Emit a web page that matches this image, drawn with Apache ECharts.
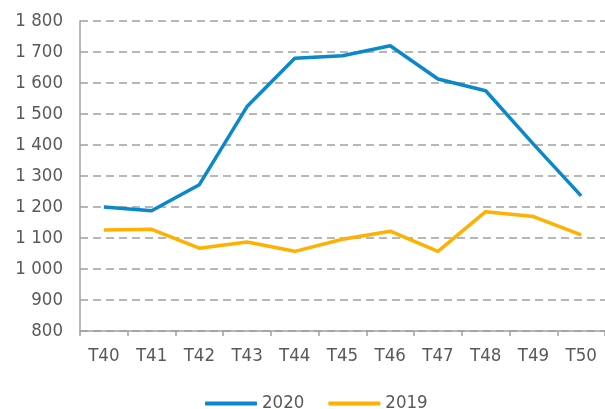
<!DOCTYPE html>
<html>
<head>
<meta charset="utf-8">
<script src="https://cdn.jsdelivr.net/npm/echarts@6/dist/echarts.min.js"></script>
<style>
  html, body { margin: 0; padding: 0; background: #fff; }
  #chart { width: 605px; height: 409px; }
</style>
</head>
<body>
<div id="chart"></div>
<script>
// weeks and values
const weeks = ['T40', 'T41', 'T42', 'T43', 'T44', 'T45', 'T46', 'T47', 'T48', 'T49', 'T50'];
const values2020 = [1200, 1188, 1272, 1524, 1680, 1688, 1720, 1613, 1575, 1403, 1236];
const values2019 = [1126, 1128, 1067, 1087, 1057, 1096, 1122, 1057, 1185, 1169, 1110];

const blue = '#0a88cb';
const orange = '#ffb000';
const textColor = '#595959';
const font = '"DejaVu Sans Condensed", "DejaVu Sans"';
const fontSize = 18.5;

// "1800" -> "1 800"
const spaced = v => String(v).replace(/\B(?=(\d{3})+(?!\d))/g, ' ');

const chart = echarts.init(document.getElementById('chart'), null, { renderer: 'canvas' });

const option = {
  animation: false,
  textStyle: { fontFamily: font, color: textColor },
  grid: { left: 80, top: 21, width: 526, height: 310, containLabel: false },
  legend: {
    left: 205,
    top: 394,
    padding: 0,
    icon: 'roundRect',
    itemWidth: 52,
    itemHeight: 4,
    itemGap: 24,
    textStyle: { fontFamily: font, fontSize: fontSize, color: textColor },
    data: ['2020', '2019']
  },
  xAxis: {
    type: 'category',
    data: weeks,
    boundaryGap: true,
    axisLine: { lineStyle: { color: '#a0a0a0', width: 1.5 } },
    axisTick: { show: true, length: 5, lineStyle: { color: '#a0a0a0', width: 1.5 } },
    axisLabel: { fontFamily: font, fontSize: fontSize, color: textColor, margin: 16 },
    splitLine: { show: false }
  },
  yAxis: {
    type: 'value',
    min: 800,
    max: 1800,
    interval: 100,
    axisLine: { show: true, lineStyle: { color: '#a0a0a0', width: 1.5 } },
    axisTick: { show: false },
    axisLabel: { fontFamily: font, fontSize: fontSize, color: textColor, margin: 17, formatter: spaced },
    splitLine: { lineStyle: { color: '#a0a0a0', width: 1.5, type: [8, 5] } }
  },
  series: [
    {
      name: '2020',
      type: 'line',
      data: values2020,
      symbol: 'none',
      itemStyle: { color: blue },
      lineStyle: { color: blue, width: 3.5 }
    },
    {
      name: '2019',
      type: 'line',
      data: values2019,
      symbol: 'none',
      itemStyle: { color: orange },
      lineStyle: { color: orange, width: 3.5 }
    }
  ]
};

chart.setOption(option);
</script>
</body>
</html>
